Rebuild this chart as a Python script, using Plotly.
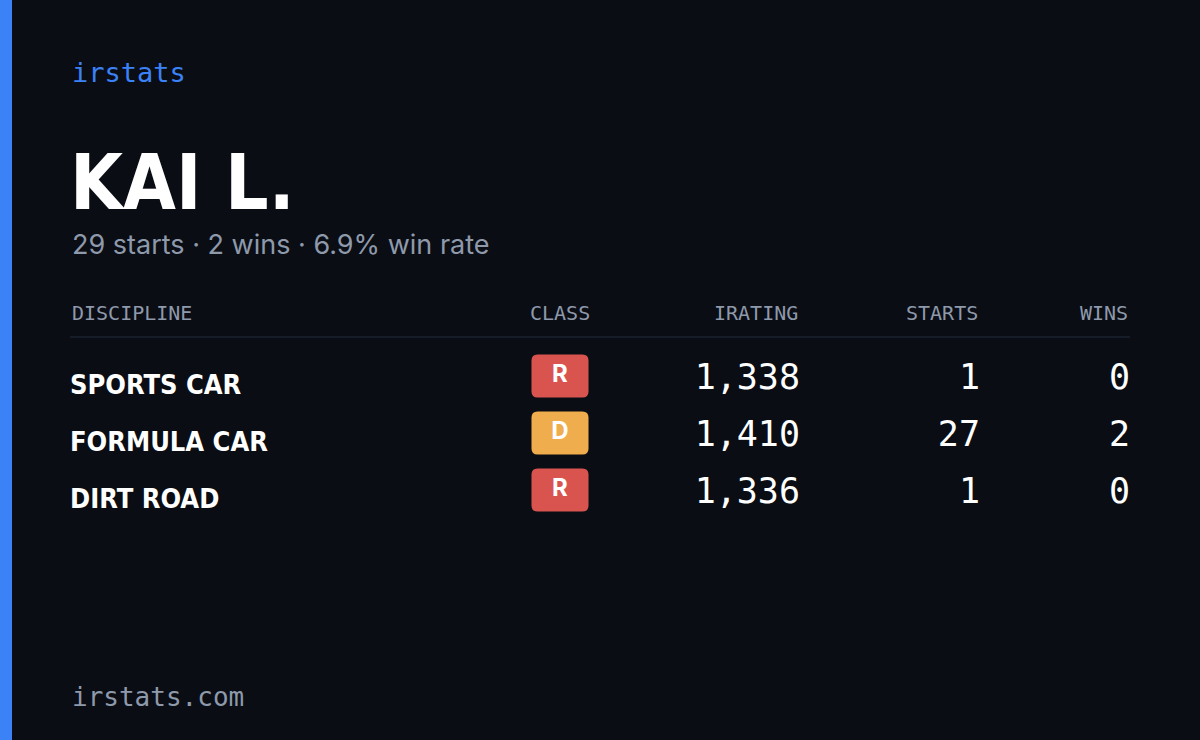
import plotly.graph_objects as go

disciplines = ["SPORTS CAR", "FORMULA CAR", "DIRT ROAD"]
classes = ["R", "D", "R"]
iratings = [1338, 1410, 1336]
starts = [1, 27, 1]
wins = [0, 2, 0]
headers = ["DISCIPLINE", "CLASS", "IRATING", "STARTS", "WINS"]
class_colors = {"R": "#d9544f", "D": "#efad4d"}

BG = "#0a0d14"
GRAY = "#8e99ab"
MONO = "DejaVu Sans Mono"
COND = "DejaVu Sans Condensed, DejaVu Sans"

row_y = [380, 437, 494]
fig = go.Figure()

fig.add_trace(go.Scatter(x=[70]*3, y=[y+7 for y in row_y], mode="text", text=[f"<b>{d}</b>" for d in disciplines],
    textposition="middle right", textfont=dict(family=COND, size=27, color="white"), hoverinfo="skip"))
fig.add_trace(go.Scatter(x=[560]*3, y=[y-4 for y in row_y], mode="text", text=[f"<b>{c}</b>" for c in classes],
    textposition="middle center", textfont=dict(family="Inter", size=24, color="white"), hoverinfo="skip"))
for xr, vals in [(800, [f"{v:,}" for v in iratings]), (980, [str(v) for v in starts]), (1130, [str(v) for v in wins])]:
    fig.add_trace(go.Scatter(x=[xr]*3, y=row_y, mode="text", text=vals, textposition="middle left",
        textfont=dict(family=MONO, size=35, color="white"), hoverinfo="skip"))

shapes = [dict(type="rect", xref="paper", yref="paper", x0=0, x1=12/1200, y0=0, y1=1,
               fillcolor="#3b82f6", line_width=0, layer="below"),
          dict(type="line", x0=70, x1=1130, y0=337, y1=337, line=dict(color="#1c2230", width=1.5))]
for c, y in zip(classes, row_y):
    x0, x1, y0, y1, r = 531.5, 588.5, y-4-21.5, y-4+21.5, 6
    path = (f"M{x0+r},{y0} L{x1-r},{y0} Q{x1},{y0} {x1},{y0+r} L{x1},{y1-r} Q{x1},{y1} {x1-r},{y1} "
            f"L{x0+r},{y1} Q{x0},{y1} {x0},{y1-r} L{x0},{y0+r} Q{x0},{y0} {x0+r},{y0} Z")
    shapes.append(dict(type="path", path=path, fillcolor=class_colors[c], line_width=0, layer="below"))

anns = [
    dict(x=70, y=72, text="irstats", xanchor="left", font=dict(family=MONO, size=27, color="#3b82f6")),
    dict(x=68, y=182, text="<b>KAI L.</b>", xanchor="left", font=dict(family=COND, size=76, color="white")),
    dict(x=70, y=244, text="29 starts · 2 wins · 6.9% win rate", xanchor="left",
         font=dict(family="Inter", size=27, color=GRAY)),
    dict(x=70, y=697, text="irstats.com", xanchor="left", font=dict(family=MONO, size=26, color=GRAY)),
]
hx = [(70, "left"), (560, "center"), (800, "right"), (980, "right"), (1130, "right")]
for (x, anc), h in zip(hx, headers):
    anns.append(dict(x=x, y=313, text=h, xanchor=anc, font=dict(family=MONO, size=20, color=GRAY)))
for a in anns:
    a.update(showarrow=False, yanchor="middle")

fig.update_layout(width=1200, height=740, margin=dict(l=0, r=0, t=0, b=0),
    paper_bgcolor=BG, plot_bgcolor=BG, showlegend=False, shapes=shapes, annotations=anns,
    xaxis=dict(range=[0, 1200], visible=False, fixedrange=True),
    yaxis=dict(range=[740, 0], visible=False, fixedrange=True))
fig.write_html("out.html", config={"displayModeBar": False},
               post_script="document.body.style.margin='0';document.body.style.background='#0a0d14';")
